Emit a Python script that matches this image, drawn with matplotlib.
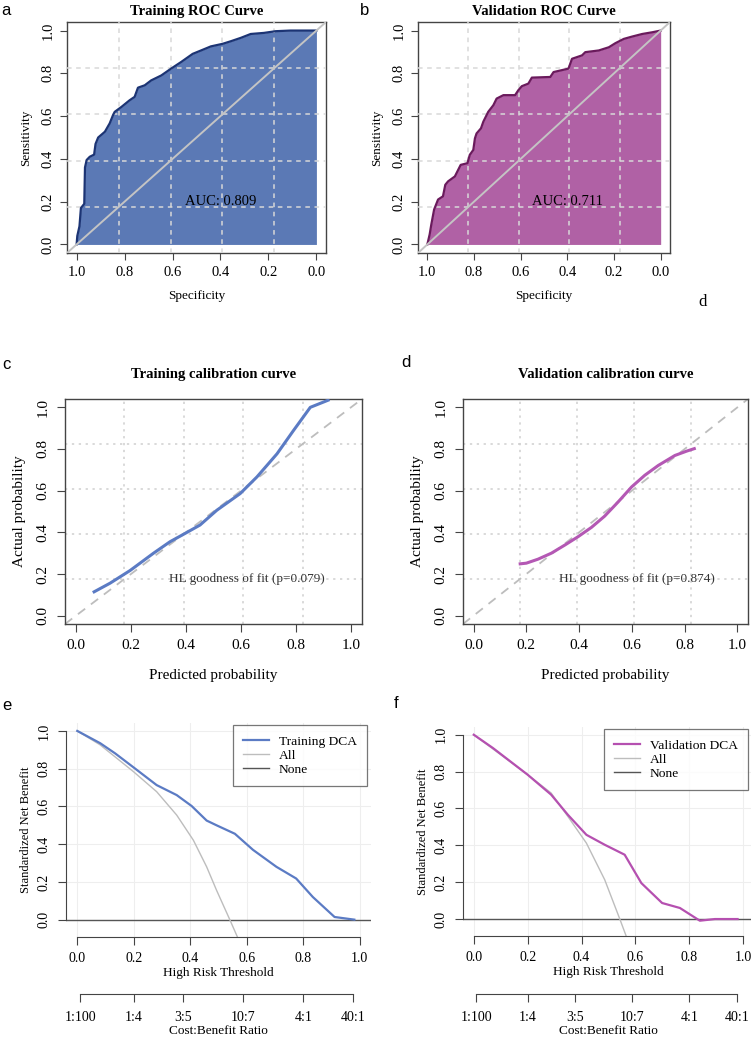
import numpy as np
import matplotlib
matplotlib.use("Agg")
import matplotlib.pyplot as plt

# ---- ROC data (specificity, sensitivity) ----
train_spec = [1.0, 0.997, 0.988, 0.982, 0.968, 0.965, 0.958, 0.945, 0.927, 0.921,
              0.91, 0.882, 0.862, 0.848, 0.841, 0.813, 0.779, 0.758, 0.744, 0.716,
              0.689, 0.647, 0.606, 0.564, 0.516, 0.481, 0.44, 0.391, 0.357, 0.315,
              0.274, 0.219, 0.17, 0.108, 0.0]
train_sens = [0.0, 0.04, 0.085, 0.17, 0.19, 0.36, 0.395, 0.41, 0.42, 0.47,
              0.50, 0.527, 0.566, 0.605, 0.62, 0.643, 0.674, 0.69, 0.733, 0.744,
              0.767, 0.79, 0.822, 0.853, 0.891, 0.907, 0.926, 0.938, 0.95, 0.966,
              0.984, 0.989, 0.997, 1.0, 1.0]
valid_spec = [1.0, 0.99, 0.983, 0.971, 0.954, 0.933, 0.923, 0.911, 0.882, 0.857,
              0.828, 0.818, 0.803, 0.796, 0.789, 0.77, 0.76, 0.739, 0.717, 0.703,
              0.674, 0.624, 0.61, 0.595, 0.567, 0.552, 0.473, 0.459, 0.395, 0.38,
              0.337, 0.323, 0.265, 0.222, 0.194, 0.158, 0.122, 0.079, 0.036, 0.0]
valid_sens = [0.0, 0.047, 0.093, 0.163, 0.21, 0.225, 0.279, 0.295, 0.318, 0.372,
              0.38, 0.419, 0.442, 0.496, 0.519, 0.543, 0.574, 0.62, 0.651, 0.682,
              0.698, 0.698, 0.721, 0.74, 0.752, 0.78, 0.783, 0.806, 0.822, 0.868,
              0.884, 0.899, 0.907, 0.922, 0.941, 0.961, 0.972, 0.984, 0.992, 1.0]
auc_train = "AUC: 0.809"
auc_valid = "AUC: 0.711"

# ---- calibration curves ----
cal_train_x = [0.061, 0.124, 0.197, 0.282, 0.342, 0.397, 0.451, 0.512, 0.597,
               0.658, 0.731, 0.791, 0.852, 0.922]
cal_train_y = [0.111, 0.156, 0.217, 0.300, 0.355, 0.395, 0.435, 0.506, 0.586,
               0.666, 0.777, 0.889, 1.0, 1.037]
cal_valid_x = [0.171, 0.20, 0.244, 0.295, 0.346, 0.396, 0.447, 0.497, 0.548,
               0.599, 0.649, 0.70, 0.763, 0.808, 0.842]
cal_valid_y = [0.248, 0.252, 0.271, 0.300, 0.339, 0.379, 0.424, 0.478, 0.546,
               0.618, 0.674, 0.721, 0.769, 0.790, 0.804]
hl_train = "HL goodness of fit (p=0.079)"
hl_valid = "HL goodness of fit (p=0.874)"

# ---- decision curves ----
dca_train_x = [0.0, 0.081, 0.134, 0.199, 0.281, 0.352, 0.405, 0.458, 0.493, 0.558,
               0.622, 0.705, 0.775, 0.834, 0.911, 0.981]
dca_train_y = [1.0, 0.935, 0.881, 0.807, 0.713, 0.66, 0.602, 0.525, 0.50, 0.455,
               0.37, 0.28, 0.218, 0.12, 0.014, 0.0]
all_train_x = [0.0, 0.081, 0.199, 0.281, 0.352, 0.411, 0.458, 0.493, 0.54, 0.567]
all_train_y = [1.0, 0.926, 0.784, 0.678, 0.554, 0.421, 0.28, 0.156, 0.0, -0.092]
dca_valid_x = [0.0, 0.071, 0.20, 0.287, 0.349, 0.418, 0.486, 0.56, 0.622, 0.699,
               0.765, 0.839, 0.895, 0.979]
dca_valid_y = [1.0, 0.928, 0.783, 0.675, 0.566, 0.457, 0.403, 0.349, 0.195, 0.087,
               0.06, -0.009, 0.0, 0.0]
all_valid_x = [0.0, 0.20, 0.287, 0.349, 0.418, 0.486, 0.542, 0.566]
all_valid_y = [1.0, 0.783, 0.684, 0.557, 0.412, 0.213, 0.0, -0.094]

cb_labels = ["1:100", "1:4", "3:5", "10:7", "4:1", "40:1"]
cb_pos = [1 / 101, 1 / 5, 3 / 8, 10 / 17, 4 / 5, 40 / 41]

W, H = 751, 1039
fig = plt.figure(figsize=(W / 100, H / 100), dpi=100)
plt.rcParams['font.family'] = "serif"
plt.rcParams['font.serif'] = ["Liberation Serif", "DejaVu Serif"]


def rect(l, r, t, b):
    return [l / W, 1 - b / H, (r - l) / W, (b - t) / H]


grid_r = [-0.04 + 1.08 * k / 5 for k in range(1, 5)]
ticks = [0, 0.2, 0.4, 0.6, 0.8, 1.0]
tlabs = ["0.0", "0.2", "0.4", "0.6", "0.8", "1.0"]


def roc_panel(box, spec, sens, fill, edge, title, auc):
    ax = fig.add_axes(box)
    ax.set_xlim(1.04, -0.04)
    ax.set_ylim(-0.04, 1.04)
    for g in grid_r:
        ax.axvline(g, color="#d8d8d8", ls=(0, (3, 3)), lw=1.1, zorder=3)
        ax.axhline(g, color="#d8d8d8", ls=(0, (3, 3)), lw=1.1, zorder=3)
    s = np.array(spec)
    ax.fill_between(s, 0, sens, color=fill, lw=0, zorder=1)
    ax.plot(spec, sens, color=edge, lw=1.6, zorder=4)
    ax.plot([1.04, -0.04], [-0.04, 1.04], color="#c4c4c4", lw=1.4, zorder=5)
    ax.text(0.4, 0.2, auc, ha="center", va="center", fontsize=10.5, zorder=6)
    ax.set_xticks(ticks, tlabs, fontsize=10.5)
    ax.set_yticks(ticks, tlabs, fontsize=10.5, rotation=90, va="center")
    ax.tick_params(length=5, color="#444444", pad=4)
    for sp in ax.spines.values():
        sp.set_color("#444444")
        sp.set_linewidth(1.0)
    ax.set_xlabel("Specificity", fontsize=9.5, labelpad=8)
    ax.set_ylabel("Sensitivity", fontsize=9.5, labelpad=7)
    ax.set_title(title, fontsize=10.5, fontweight="bold", pad=5)
    return ax


roc_panel(rect(67, 326, 22, 253), train_spec, train_sens, "#5b79b5", "#1c3474",
          "Training ROC Curve", auc_train)
roc_panel(rect(418, 670, 22, 253), valid_spec, valid_sens, "#b061a5", "#6a1a5c",
          "Validation ROC Curve", auc_valid)


def cal_panel(box, x, y, col, title, hl):
    ax = fig.add_axes(box)
    ax.set_xlim(-0.04, 1.04)
    ax.set_ylim(-0.04, 1.04)
    for g in grid_r:
        ax.axvline(g, color="#d0d0d0", ls=(0, (1.5, 3)), lw=1.1, zorder=1)
        ax.axhline(g, color="#d0d0d0", ls=(0, (1.5, 3)), lw=1.1, zorder=1)
    ax.plot([-0.04, 1.04], [-0.04, 1.04], color="#bdbdbd", ls=(0, (5, 4)), lw=1.3, zorder=2)
    ax.plot(x, y, color=col, lw=2.2, zorder=3, solid_capstyle="butt")
    ax.text(0.62, 0.177, hl, ha="center", va="center", fontsize=9.5, color="#333333",
            zorder=4)
    ax.set_xticks(ticks, tlabs, fontsize=11)
    ax.set_yticks(ticks, tlabs, fontsize=11, rotation=90, va="center")
    ax.tick_params(length=6, color="#444444", pad=5)
    for sp in ax.spines.values():
        sp.set_color("#444444")
        sp.set_linewidth(1.0)
    ax.set_xlabel("Predicted probability", fontsize=11, labelpad=12)
    ax.set_ylabel("Actual probability", fontsize=11, labelpad=8)
    ax.set_title(title, fontsize=10.5, fontweight="bold", pad=15)
    return ax


cal_panel(rect(65, 362, 399, 624), cal_train_x, cal_train_y, "#5b7bc4",
          "Training calibration curve", hl_train)
cal_panel(rect(463, 748, 399, 624), cal_valid_x, cal_valid_y, "#b458b4",
          "Validation calibration curve", hl_valid)


def dca_panel(box, x, y, ax_, ay_, col, name, anchor):
    ax = fig.add_axes(box)
    ax.set_xlim(-0.04, 1.04)
    ax.set_ylim(-0.092, 1.042)
    for t in ticks:
        ax.axvline(t, color="#eeeeee", lw=0.8, zorder=0)
        ax.axhline(t, color="#eeeeee", lw=0.8, zorder=0)
    ax.plot(x, y, color=col, lw=1.6, zorder=3, label=name)
    ax.plot(ax_, ay_, color="#bdbdbd", lw=1.0, zorder=2, label="All")
    ax.axhline(0, color="#555555", lw=1.0, zorder=1, label="None")
    for k in ["top", "right"]:
        ax.spines[k].set_visible(False)
    ax.spines["left"].set_bounds(0, 1)
    ax.spines["bottom"].set_bounds(0, 1)
    for k in ["left", "bottom"]:
        ax.spines[k].set_color("#444444")
    ax.set_xticks(ticks, tlabs, fontsize=10)
    ax.set_yticks(ticks, tlabs, fontsize=10, rotation=90, va="center")
    ax.tick_params(length=6, color="#444444", pad=5)
    ax.set_xlabel("High Risk Threshold", fontsize=9.5, labelpad=1)
    ax.set_ylabel("Standardized Net Benefit", fontsize=9, labelpad=4)
    leg = ax.legend(loc="upper right", bbox_to_anchor=anchor, fontsize=9.7,
                    frameon=True, fancybox=False, edgecolor="#555555",
                    handlelength=1.9, handletextpad=0.75, labelspacing=0.12,
                    borderpad=0.75, borderaxespad=0.0)
    leg.get_frame().set_linewidth(0.9)
    return ax


def cb_axis(l, r, y):
    a = fig.add_axes([l / W, 1 - y / H, (r - l) / W, 0.0001])
    a.set_xlim(-0.04, 1.04)
    a.set_yticks([])
    for k in ["top", "right", "left"]:
        a.spines[k].set_visible(False)
    a.patch.set_visible(False)
    a.spines["bottom"].set_bounds(cb_pos[0], cb_pos[-1])
    a.spines["bottom"].set_color("#444444")
    a.set_xticks(cb_pos, cb_labels, fontsize=10)
    a.tick_params(length=6, color="#444444", pad=6)
    a.set_xlabel("Cost:Benefit Ratio", fontsize=9.5, labelpad=1)


dca_panel(rect(66, 371, 723, 937), dca_train_x, dca_train_y, all_train_x, all_train_y,
          "#5b7bc4", "Training DCA", (0.987, 0.99))
cb_axis(66, 371, 994)
dca_panel(rect(463, 754, 727, 936), dca_valid_x, dca_valid_y, all_valid_x, all_valid_y,
          "#b550b0", "Validation DCA", (0.98, 0.99))
cb_axis(463, 754, 994)

# panel letters
for lab, px, py in [("a", 1, 3), ("b", 360, 3), ("c", 2, 357), ("d", 401, 355),
                    ("e", 2, 698), ("f", 394, 696)]:
    fig.text(px / W, 1 - py / H, lab, fontsize=12, va="top", ha="left",
             family="Liberation Sans")
fig.text(703 / W, 1 - 294 / H, "d", fontsize=12, va="top", ha="center")

fig.savefig("out.png", dpi=100)
